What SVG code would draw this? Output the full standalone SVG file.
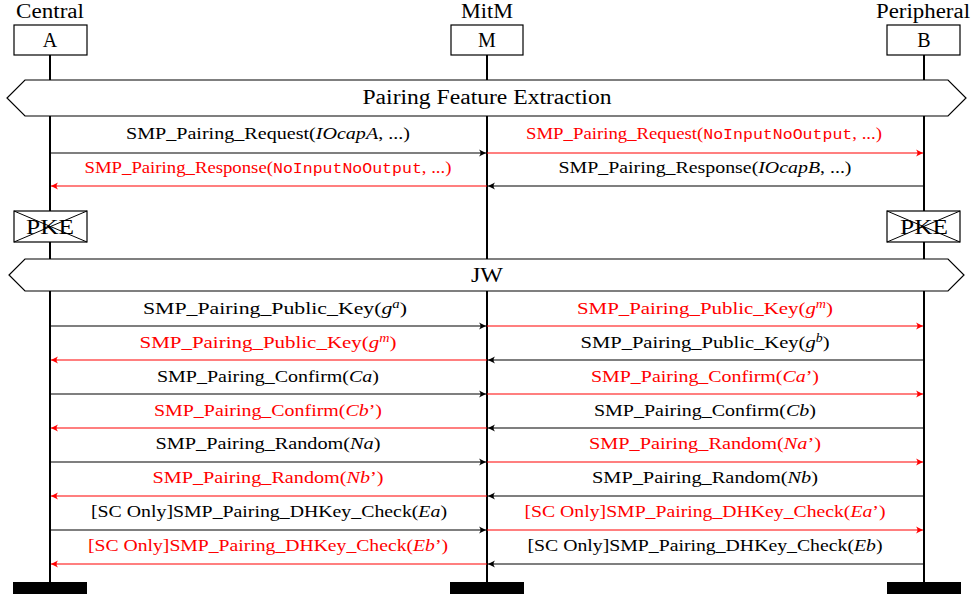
<svg xmlns="http://www.w3.org/2000/svg" width="973" height="594" viewBox="0 0 973 594">
<style>
text{font-family:"Liberation Serif","DejaVu Serif",serif;font-size:17px;fill:#000}
.t{text-anchor:middle}
.r{fill:#ff0000}
.m{font-family:"Liberation Mono","DejaVu Sans Mono",monospace;font-size:15px}
.i{font-style:italic}
.sup{font-style:italic;font-size:11.5px}
.life{stroke:#000;stroke-width:2}
.box{fill:#fff;stroke:#000;stroke-width:1.2}
.hex{fill:#fff;stroke:#000;stroke-width:1.2}
.ab{stroke:#000;stroke-width:1.2;fill:none;marker-end:url(#mb)}
.ar{stroke:#ff0000;stroke-width:1.2;fill:none;marker-end:url(#mr)}
.big{font-size:20px}
.pke{font-size:21px}
.x{stroke:#000;stroke-width:1}
</style>
<defs>
<marker id="mb" viewBox="-8 -4 9 8" refX="0" refY="0" markerWidth="9" markerHeight="8" markerUnits="userSpaceOnUse" orient="auto">
<path d="M0,0 L-7,-3.5 Q-4,0 -7,3.5 Z" fill="#000"/>
</marker>
<marker id="mr" viewBox="-8 -4 9 8" refX="0" refY="0" markerWidth="9" markerHeight="8" markerUnits="userSpaceOnUse" orient="auto">
<path d="M0,0 L-7,-3.5 Q-4,0 -7,3.5 Z" fill="#ff0000"/>
</marker>
</defs>
<rect width="973" height="594" fill="#fff"/>
<g id="lifelines">
<line class="life" x1="50" y1="55" x2="50" y2="583"/>
<line class="life" x1="487" y1="55" x2="487" y2="583"/>
<line class="life" x1="924" y1="55" x2="924" y2="583"/>
</g>
<g id="A">
<text class="t big" x="50" y="18" textLength="68" lengthAdjust="spacingAndGlyphs">Central</text>
<rect class="box" x="14" y="25" width="73" height="30"/>
<text class="t big" x="50" y="47">A</text>
<rect x="13" y="582" width="74" height="12" fill="#000"/>
</g>
<g id="M">
<text class="t big" x="487" y="18" textLength="52" lengthAdjust="spacingAndGlyphs">MitM</text>
<rect class="box" x="451" y="25" width="72" height="30"/>
<text class="t big" x="487" y="47">M</text>
<rect x="450" y="582" width="74" height="12" fill="#000"/>
</g>
<g id="B">
<text class="t big" x="923" y="18" textLength="94" lengthAdjust="spacingAndGlyphs">Peripheral</text>
<rect class="box" x="887" y="25" width="73" height="30"/>
<text class="t big" x="924" y="47">B</text>
<rect x="887" y="582" width="74" height="12" fill="#000"/>
</g>
<g id="pfe">
<path class="hex" d="M25,80 L948,80 L966,98 L948,116 L25,116 L7,98 Z"/>
<text class="t big" x="487" y="104" textLength="249" lengthAdjust="spacingAndGlyphs">Pairing Feature Extraction</text>
</g>
<g id="pkeA">
<rect class="box" x="14" y="211" width="73" height="31"/>
<line class="x" x1="14" y1="211" x2="87" y2="242"/>
<line class="x" x1="14" y1="242" x2="87" y2="211"/>
<text class="t pke" x="50" y="234" textLength="48" lengthAdjust="spacingAndGlyphs">PKE</text>
</g>
<g id="pkeB">
<rect class="box" x="887" y="211" width="73" height="31"/>
<line class="x" x1="887" y1="211" x2="960" y2="242"/>
<line class="x" x1="887" y1="242" x2="960" y2="211"/>
<text class="t pke" x="924" y="234" textLength="48" lengthAdjust="spacingAndGlyphs">PKE</text>
</g>
<g id="jw">
<path class="hex" d="M25,259 L948,259 L964,275 L948,291 L25,291 L9,275 Z"/>
<text class="t big" x="487" y="282" textLength="32" lengthAdjust="spacingAndGlyphs">JW</text>
</g>
<g id="connectors">
<line class="ab" x1="50" y1="153" x2="486" y2="153"/>
<line class="ar" x1="487" y1="153" x2="923" y2="153"/>
<line class="ar" x1="487" y1="186" x2="51" y2="186"/>
<line class="ab" x1="924" y1="186" x2="488" y2="186"/>
<line class="ab" x1="50" y1="326" x2="486" y2="326"/>
<line class="ar" x1="487" y1="326" x2="923" y2="326"/>
<line class="ar" x1="487" y1="360" x2="51" y2="360"/>
<line class="ab" x1="924" y1="360" x2="488" y2="360"/>
<line class="ab" x1="50" y1="394" x2="486" y2="394"/>
<line class="ar" x1="487" y1="394" x2="923" y2="394"/>
<line class="ar" x1="487" y1="428" x2="51" y2="428"/>
<line class="ab" x1="924" y1="428" x2="488" y2="428"/>
<line class="ab" x1="50" y1="462" x2="486" y2="462"/>
<line class="ar" x1="487" y1="462" x2="923" y2="462"/>
<line class="ar" x1="487" y1="496" x2="51" y2="496"/>
<line class="ab" x1="924" y1="496" x2="488" y2="496"/>
<line class="ab" x1="50" y1="530" x2="486" y2="530"/>
<line class="ar" x1="487" y1="530" x2="923" y2="530"/>
<line class="ar" x1="487" y1="564" x2="51" y2="564"/>
<line class="ab" x1="924" y1="564" x2="488" y2="564"/>
</g>
<g id="labels">
<text class="t" x="268" y="139" textLength="284" lengthAdjust="spacingAndGlyphs">SMP_Pairing_Request(<tspan class="i">IOcapA</tspan>, ...)</text>
<text class="t r" x="704" y="139" textLength="356" lengthAdjust="spacingAndGlyphs">SMP_Pairing_Request(<tspan class="m r">NoInputNoOutput</tspan>, ...)</text>
<text class="t r" x="268" y="173" textLength="367" lengthAdjust="spacingAndGlyphs">SMP_Pairing_Response(<tspan class="m r">NoInputNoOutput</tspan>, ...)</text>
<text class="t" x="705" y="173" textLength="293" lengthAdjust="spacingAndGlyphs">SMP_Pairing_Response(<tspan class="i">IOcapB</tspan>, ...)</text>
<text class="t" x="275" y="314" textLength="264" lengthAdjust="spacingAndGlyphs">SMP_Pairing_Public_Key(<tspan class="i">g</tspan><tspan class="sup" dy="-6">a</tspan><tspan dy="6">)</tspan></text>
<text class="t r" x="705" y="314" textLength="256" lengthAdjust="spacingAndGlyphs">SMP_Pairing_Public_Key(<tspan class="i">g</tspan><tspan class="sup" dy="-6">m</tspan><tspan dy="6">)</tspan></text>
<text class="t r" x="268" y="348" textLength="257" lengthAdjust="spacingAndGlyphs">SMP_Pairing_Public_Key(<tspan class="i">g</tspan><tspan class="sup" dy="-6">m</tspan><tspan dy="6">)</tspan></text>
<text class="t" x="705" y="348" textLength="249" lengthAdjust="spacingAndGlyphs">SMP_Pairing_Public_Key(<tspan class="i">g</tspan><tspan class="sup" dy="-6">b</tspan><tspan dy="6">)</tspan></text>
<text class="t" x="268" y="382" textLength="222" lengthAdjust="spacingAndGlyphs">SMP_Pairing_Confirm(<tspan class="i">Ca</tspan>)</text>
<text class="t r" x="705" y="382" textLength="228" lengthAdjust="spacingAndGlyphs">SMP_Pairing_Confirm(<tspan class="i">Ca</tspan>’)</text>
<text class="t r" x="268" y="416" textLength="228" lengthAdjust="spacingAndGlyphs">SMP_Pairing_Confirm(<tspan class="i">Cb</tspan>’)</text>
<text class="t" x="705" y="416" textLength="222" lengthAdjust="spacingAndGlyphs">SMP_Pairing_Confirm(<tspan class="i">Cb</tspan>)</text>
<text class="t" x="268" y="449" textLength="225" lengthAdjust="spacingAndGlyphs">SMP_Pairing_Random(<tspan class="i">Na</tspan>)</text>
<text class="t r" x="705" y="449" textLength="232" lengthAdjust="spacingAndGlyphs">SMP_Pairing_Random(<tspan class="i">Na</tspan>’)</text>
<text class="t r" x="268" y="483" textLength="231" lengthAdjust="spacingAndGlyphs">SMP_Pairing_Random(<tspan class="i">Nb</tspan>’)</text>
<text class="t" x="705" y="483" textLength="226" lengthAdjust="spacingAndGlyphs">SMP_Pairing_Random(<tspan class="i">Nb</tspan>)</text>
<text class="t" x="269" y="517" textLength="356" lengthAdjust="spacingAndGlyphs">[SC Only]SMP_Pairing_DHKey_Check(<tspan class="i">Ea</tspan>)</text>
<text class="t r" x="705" y="517" textLength="361" lengthAdjust="spacingAndGlyphs">[SC Only]SMP_Pairing_DHKey_Check(<tspan class="i">Ea</tspan>’)</text>
<text class="t r" x="268" y="551" textLength="360" lengthAdjust="spacingAndGlyphs">[SC Only]SMP_Pairing_DHKey_Check(<tspan class="i">Eb</tspan>’)</text>
<text class="t" x="705" y="551" textLength="355" lengthAdjust="spacingAndGlyphs">[SC Only]SMP_Pairing_DHKey_Check(<tspan class="i">Eb</tspan>)</text>
</g>
</svg>
